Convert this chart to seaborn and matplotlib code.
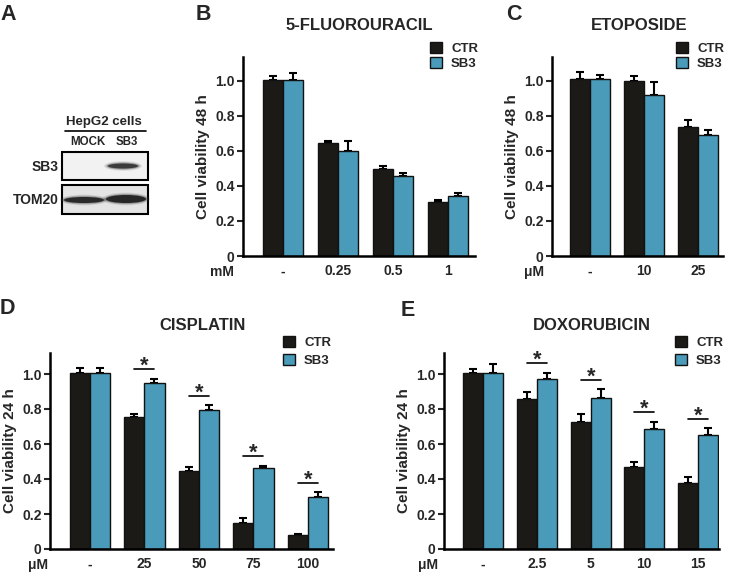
import numpy as np
import pandas as pd
import matplotlib
matplotlib.use('Agg')
import matplotlib.pyplot as plt
import seaborn as sns
from matplotlib.patches import Rectangle, Ellipse

# ---------------- data ----------------
groups = ['CTR', 'SB3']
colors = {'CTR': '#1c1a17', 'SB3': '#4a9bba'}

b_title = '5-FLUOROURACIL'
b_unit = 'mM'
b_doses = ['-', '0.25', '0.5', '1']
b_ctr = [1.005, 0.645, 0.495, 0.310]
b_ctr_err = [0.020, 0.012, 0.018, 0.010]
b_sb3 = [1.005, 0.598, 0.455, 0.343]
b_sb3_err = [0.035, 0.060, 0.020, 0.017]
b_sig = [False, False, False, False]

c_title = 'ETOPOSIDE'
c_unit = 'μM'
c_doses = ['-', '10', '25']
c_ctr = [1.010, 1.000, 0.734]
c_ctr_err = [0.040, 0.025, 0.040]
c_sb3 = [1.010, 0.917, 0.689]
c_sb3_err = [0.022, 0.073, 0.031]
c_sig = [False, False, False]

d_title = 'CISPLATIN'
d_unit = 'μM'
d_doses = ['-', '25', '50', '75', '100']
d_ctr = [1.004, 0.757, 0.445, 0.148, 0.078]
d_ctr_err = [0.028, 0.015, 0.026, 0.027, 0.006]
d_sb3 = [1.004, 0.950, 0.795, 0.462, 0.295]
d_sb3_err = [0.032, 0.023, 0.026, 0.015, 0.030]
d_sig = [False, True, True, True, True]

e_title = 'DOXORUBICIN'
e_unit = 'μM'
e_doses = ['-', '2.5', '5', '10', '15']
e_ctr = [1.004, 0.855, 0.728, 0.471, 0.380]
e_ctr_err = [0.026, 0.042, 0.044, 0.027, 0.030]
e_sb3 = [1.004, 0.973, 0.865, 0.684, 0.652]
e_sb3_err = [0.051, 0.035, 0.048, 0.044, 0.038]
e_sig = [False, True, True, True, True]

ylabel_48 = 'Cell viability 48 h'
ylabel_24 = 'Cell viability 24 h'
yticks = [0, 0.2, 0.4, 0.6, 0.8, 1.0]
ytick_labels = ['0', '0.2', '0.4', '0.6', '0.8', '1.0']

# ---------------- style ----------------
sns.set_style('ticks')
plt.rcParams['font.family'] = ['Liberation Sans', 'DejaVu Sans']
plt.rcParams['font.weight'] = 'bold'
plt.rcParams['axes.labelweight'] = 'bold'

W, H = 732, 587
fig = plt.figure(figsize=(W / 100, H / 100), dpi=100)

# full-figure overlay axes in pixel coordinates (for blot + free text)
ax0 = fig.add_axes([0, 0, 1, 1])
ax0.set_xlim(0, W)
ax0.set_ylim(H, 0)
ax0.axis('off')


def rect(left, top, right, bottom):
    return [left / W, 1 - bottom / H, (right - left) / W, (bottom - top) / H]


def draw_panel(box, doses, ctr, ctr_err, sb3, sb3_err, sig, ylabel, xlim,
               ytop, title, title_xy, unit, unit_xy, leg_xy, leg_spacing):
    ax = fig.add_axes(rect(*box))
    n = len(doses)
    df = pd.DataFrame({'dose': doses * 2,
                       'group': ['CTR'] * n + ['SB3'] * n,
                       'value': ctr + sb3})
    sns.barplot(data=df, x='dose', y='value', hue='group', order=doses,
                hue_order=groups, palette=colors, saturation=1, width=0.74,
                edgecolor='#111111', linewidth=1.0, errorbar=None, ax=ax)
    centers = []
    for cont, vals, errs in zip(ax.containers, [ctr, sb3], [ctr_err, sb3_err]):
        xs = [b.get_x() + b.get_width() / 2 for b in cont]
        centers.append(xs)
        ax.errorbar(xs, vals, yerr=[np.zeros(n), errs], fmt='none',
                    ecolor='black', elinewidth=1.5, capsize=3, capthick=1.5,
                    zorder=0.9)
    for i, s in enumerate(sig):
        if s:
            top = max(ctr[i] + ctr_err[i], sb3[i] + sb3_err[i]) + 0.055
            x0, x1 = centers[0][i], centers[1][i]
            ax.plot([x0, x1], [top, top], color='black', lw=1.2)
            ax.annotate('*', xy=((x0 + x1) / 2, top), xytext=(0, -2),
                        textcoords='offset points', ha='center',
                        va='baseline', fontsize=15.5, fontweight='bold')
    ax.set_xlim(*xlim)
    ax.set_ylim(0, ytop)
    ax.set_yticks(yticks)
    ax.set_yticklabels(ytick_labels)
    ax.set_xlabel('')
    ax.set_ylabel(ylabel, fontsize=11, fontweight='bold', labelpad=4)
    for sp in ['top', 'right']:
        ax.spines[sp].set_visible(False)
    for sp in ['left', 'bottom']:
        ax.spines[sp].set_linewidth(1.8)
        ax.spines[sp].set_color('black')
    ax.tick_params(axis='y', direction='out', length=4, width=1.5, pad=2,
                   labelsize=10)
    ax.tick_params(axis='x', length=0, pad=6, labelsize=10)
    for t in ax.get_xticklabels() + ax.get_yticklabels():
        t.set_fontweight('bold')
    handles, labels = ax.get_legend_handles_labels()
    ax.legend(handles, labels, loc='upper left',
              bbox_to_anchor=(leg_xy[0] / W, 1 - leg_xy[1] / H),
              bbox_transform=fig.transFigure, frameon=False,
              prop={'weight': 'bold', 'size': 9.5}, handlelength=0.9,
              handleheight=0.9, handletextpad=0.7, labelspacing=leg_spacing,
              borderpad=0, borderaxespad=0)
    ax0.text(title_xy[0], title_xy[1], title, ha='center', va='center',
             fontsize=12, fontweight='bold')
    ax0.text(unit_xy[0], unit_xy[1], unit, ha='center', va='center',
             fontsize=10, fontweight='bold')
    return ax


draw_panel((243, 57, 475, 256), b_doses, b_ctr, b_ctr_err, b_sb3, b_sb3_err,
           b_sig, ylabel_48, (-0.73, 3.49), 1.134, b_title, (359, 25),
           b_unit, (222, 272), (430, 42), 0.15)
draw_panel((552, 57, 723, 256), c_doses, c_ctr, c_ctr_err, c_sb3, c_sb3_err,
           c_sig, ylabel_48, (-0.70, 2.46), 1.134, c_title, (639, 25),
           c_unit, (534, 272), (676, 42), 0.15)
draw_panel((50, 353, 333, 549), d_doses, d_ctr, d_ctr_err, d_sb3, d_sb3_err,
           d_sig, ylabel_24, (-0.73, 4.46), 1.12, d_title, (203, 325),
           d_unit, (38, 565), (283, 336), 0.35)
draw_panel((444, 353, 719, 549), e_doses, e_ctr, e_ctr_err, e_sb3, e_sb3_err,
           e_sig, ylabel_24, (-0.73, 4.39), 1.12, e_title, (592, 326),
           e_unit, (428, 565), (675, 336), 0.35)

# ---------------- panel letters ----------------
for letter, (x, y) in {'A': (0, 14), 'B': (196, 14), 'C': (506, 14),
                       'D': (0, 309), 'E': (401, 311)}.items():
    ax0.text(x, y, letter, ha='left', va='center', fontsize=15.5,
             fontweight='bold')

# ---------------- panel A: western blot ----------------
ax0.text(104, 122, 'HepG2 cells', ha='center', va='center', fontsize=9.5,
         fontweight='bold')
ax0.plot([65, 146], [131, 131], color='black', lw=1.2)
ax0.text(88, 142, 'MOCK', ha='center', va='center', fontsize=8.3,
         fontweight='bold')
ax0.text(127, 142, 'SB3', ha='center', va='center', fontsize=8.3,
         fontweight='bold')
ax0.text(59, 167, 'SB3', ha='right', va='center', fontsize=10,
         fontweight='bold')
ax0.text(59, 200, 'TOM20', ha='right', va='center', fontsize=10,
         fontweight='bold')
ax0.add_patch(Rectangle((62, 152), 86, 28, facecolor='#f2f2f2',
                        edgecolor='black', lw=1.5))
ax0.add_patch(Rectangle((62, 185), 86, 29, facecolor='#e4e4e4',
                        edgecolor='black', lw=1.5))
for (cx, cy, w, h, a) in [(123, 166, 30, 5, 0.75), (84, 200, 40, 6, 0.9),
                          (126, 199, 40, 8, 0.92)]:
    for grow, alpha in [(8, 0.12), (5, 0.2), (2.5, 0.35)]:
        ax0.add_patch(Ellipse((cx, cy), w + grow, h + grow * 0.6,
                              facecolor='#444444', edgecolor='none',
                              alpha=alpha))
    ax0.add_patch(Ellipse((cx, cy), w, h, facecolor='#1e1e1e',
                          edgecolor='none', alpha=a))

fig.savefig('out.png', dpi=100)
